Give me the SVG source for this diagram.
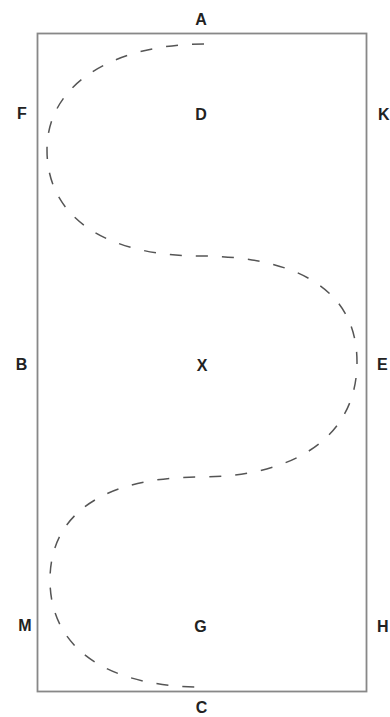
<svg xmlns="http://www.w3.org/2000/svg" width="390" height="717" viewBox="0 0 390 717">
<style>
.lbl{font-family:"Liberation Sans",Arial,sans-serif;font-weight:bold;font-size:16px;fill:#222;text-anchor:middle}
.side{text-anchor:start}
.arena{fill:none;stroke:#888;stroke-width:1.8}
.route{fill:none;stroke:#555;stroke-width:1.5;stroke-dasharray:12 14}
</style>
<rect width="390" height="717" fill="#fff"/>
<g id="arena"><rect class="arena" x="37.5" y="33.5" width="329" height="658"/></g>
<g id="connectors">
<path class="route" d="M204,44 C120,44 47,80 47,150 C47,220 110,256 200,256 C280,256 357,280 357,362 C357,440 290,477 200,477 C110,477 50,510 50,580 C50,650 110,687 202,687"/>
</g>
<g id="A"><text class="lbl" x="201" y="25">A</text></g>
<g id="F"><text class="lbl" x="22" y="119">F</text></g>
<g id="D"><text class="lbl" x="201" y="120">D</text></g>
<g id="K"><text class="lbl side" x="378" y="120">K</text></g>
<g id="B"><text class="lbl" x="21.5" y="370">B</text></g>
<g id="X"><text class="lbl" x="202" y="371">X</text></g>
<g id="E"><text class="lbl side" x="377" y="370">E</text></g>
<g id="M"><text class="lbl" x="25" y="631">M</text></g>
<g id="G"><text class="lbl" x="200.5" y="632">G</text></g>
<g id="H"><text class="lbl side" x="377" y="632">H</text></g>
<g id="C"><text class="lbl" x="201.5" y="713">C</text></g>
</svg>
